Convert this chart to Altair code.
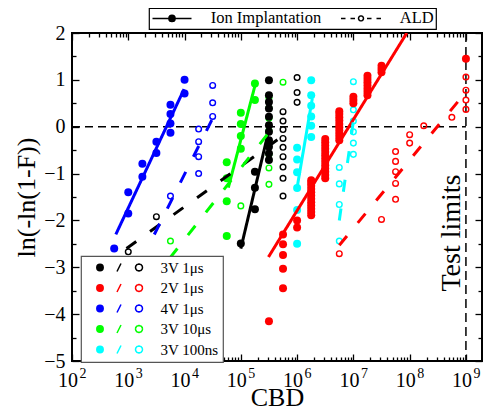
import math

import altair as alt
import pandas as pd

# Series (condición de stress) y su color fijo
SERIES = ["3V 1μs", "2V 1μs", "4V 1μs", "3V 10μs", "3V 100ns"]
SERIES_COLORS = ["#000000", "#ff0000", "#0000ff", "#00ff00", "#00ffff"]
METHODS = ["Ion Implantation", "ALD"]

# Ion implantation (rellenos): (CBD, [ln(-ln(1-F)) ...]) por columna de CBD
ION_3V1US = [(1.00e5, [-2.49]), (1.78e5, [-1.76, -1.30, -0.96]),
             (3.16e5, [-0.71, -0.57, -0.43, -0.29, -0.11, 0.03, 0.21, 0.39, 0.53, 0.67, 0.99])]
ION_2V1US = [(3.16e5, [-4.15]),
             (5.62e5, [-3.45, -3.03, -2.74, -2.51, -2.30]),
             (1.00e6, [-2.15, -2.00]),
             (1.78e6, [-1.89, -1.82, -1.75, -1.68, -1.61, -1.54, -1.47, -1.40, -1.33, -1.26, -1.20, -1.14]),
             (3.16e6, [-1.10, -1.03, -0.96, -0.89, -0.82, -0.75, -0.68, -0.61, -0.54, -0.47, -0.40, -0.33, -0.26]),
             (5.62e6, [-0.29, -0.22, -0.15, -0.08, -0.01, 0.06, 0.13, 0.20, 0.27, 0.33]),
             (1.00e7, [0.50, 0.57, 0.64]),
             (1.78e7, [0.67, 0.74, 0.81, 0.88, 0.95, 1.02, 1.09]),
             (3.16e7, [1.16, 1.23, 1.30]),
             (1.00e9, [1.45])]
ION_4V1US = [(5.62e2, [-2.60]), (1.00e3, [-1.85, -1.40]), (1.78e3, [-1.07, -0.79]),
             (3.16e3, [-0.56, -0.32]), (5.62e3, [-0.13, 0.07, 0.27, 0.47]), (1.00e4, [0.71, 1.00])]
ION_3V10US = [(5.62e4, [-2.33, -1.59, -1.10, -0.76]), (1.00e5, [-0.47, -0.20, 0.06, 0.30]),
              (1.78e5, [0.57, 0.92])]
ION_3V100NS = [(1.00e6, [-2.50, -1.78, -1.31, -0.97, -0.70, -0.45]),
               (1.78e6, [-0.22, 0.02, 0.22, 0.45, 0.67, 0.99])]

# ALD (abiertos)
ALD_3V1US = [(1.00e3, [-2.67]), (3.16e3, [-1.92]),
             (5.62e5, [-1.48, -1.10, -0.86, -0.64, -0.44, -0.25, -0.06, 0.12, 0.32]),
             (1.00e6, [0.52, 0.73, 1.05])]
ALD_2V1US = [(5.62e6, [-2.71]), (3.16e7, [-1.98]), (5.62e7, [-1.55, -1.21, -0.96, -0.74, -0.53]),
             (1.00e8, [-0.35, -0.17]), (1.78e8, [0.02]), (5.62e8, [0.20]),
             (1.00e9, [0.37, 0.57, 0.78, 1.06])]
ALD_4V1US = [(5.62e3, [-1.48]), (1.78e4, [-1.00, -0.64, -0.32, -0.05]), (3.16e4, [0.22, 0.51, 0.88])]
ALD_3V10US = [(5.62e3, [-2.44]), (1.00e5, [-1.69]),
              (3.16e5, [-1.23, -0.88, -0.59, -0.34, -0.08, 0.18, 0.40, 0.62]), (5.62e5, [0.95])]
ALD_3V100NS = [(5.62e6, [-2.44, -1.66, -1.22, -0.87]),
               (1.00e7, [-0.59, -0.35, -0.11, 0.12, 0.36, 0.62, 0.96])]

# Rectas de ajuste: extremos (CBD, ln) por serie y método
FIT_SERIES = SERIES + SERIES
FIT_METHOD = ["Ion Implantation"] * 5 + ["ALD"] * 5
FIT_CBD = [(1.0e5, 3.4e5), (3.1e5, 8.9e7), (6.0e2, 9.8e3), (6.0e4, 1.86e5), (1.0e6, 1.86e6),
           (9.3e2, 6.3e5), (5.62e6, 8.5e8), (2.9e3, 3.55e4), (5.5e3, 3.8e5), (5.62e6, 1.05e7)]
FIT_LN = [(-2.60, 0.10), (-2.78, 2.00), (-2.30, 0.80), (-1.30, 0.96), (-1.30, 0.60),
          (-2.60, -0.15), (-2.53, 0.64), (-2.30, 0.30), (-2.80, 0.00), (-2.00, 0.30)]

TEST_LIMIT = 1e9
TEST_LABEL_Y = -2.27

FONT = "Liberation Serif"


def points_frame(tables):
    rows = []
    for series, groups in zip(SERIES, tables):
        for cbd, values in groups:
            rows += [{"series": series, "cbd": cbd, "lnln": v} for v in values]
    return pd.DataFrame(rows)


ion = points_frame([ION_3V1US, ION_2V1US, ION_4V1US, ION_3V10US, ION_3V100NS])
ald = points_frame([ALD_3V1US, ALD_2V1US, ALD_4V1US, ALD_3V10US, ALD_3V100NS])
fits = pd.DataFrame([
    {"fit": i, "series": s, "method": m, "cbd": c, "lnln": v}
    for i, (s, m, cs, vs) in enumerate(zip(FIT_SERIES, FIT_METHOD, FIT_CBD, FIT_LN))
    for c, v in zip(cs, vs)
])

X_SCALE = alt.Scale(type="log", domain=[100, 1.93e9], nice=False)
Y_SCALE = alt.Scale(domain=[-5, 2], nice=False, zero=False)
COLOR_SCALE = alt.Scale(domain=SERIES, range=SERIES_COLORS)
# Dominio sin fijar (orden alfabético: ALD, Ion...) para que esta leyenda
# desactivada no se fusione con la de método
DASH_SCALE = alt.Scale(range=[[12, 17], [1, 0]])

MAJOR_X = [1e2, 1e3, 1e4, 1e5, 1e6, 1e7, 1e8, 1e9]
MINOR_X = [m * 10.0 ** k for k in range(2, 9) for m in range(2, 10)]
MAJOR_Y = [-5, -4, -3, -2, -1, 0, 1, 2]
MINOR_Y = [-4.5, -3.5, -2.5, -1.5, -0.5, 0.5, 1.5]


def tick_axis(orient, values, size):
    """Solo ticks hacia dentro (offset negativo = tickSize)."""
    return alt.Axis(orient=orient, values=values, tickSize=size, offset=-size,
                    labels=False, title=None)


def ring(cx, r):
    return f"M{cx - r:.2f},0A{r:.2f},{r:.2f} 0 1,1 {cx + r:.2f},0A{r:.2f},{r:.2f} 0 1,1 {cx - r:.2f},0"


def disc(cx, radii):
    return "".join(ring(cx, r) for r in radii)


def open_ring(cx, r, n=24):
    """Círculo hecho de segmentos sueltos: sin área, así el relleno no lo tapa."""
    parts = []
    for k in range(n):
        a0 = 2 * math.pi * k / n - 0.06
        a1 = 2 * math.pi * (k + 1) / n + 0.06
        parts.append(f"M{cx + r * math.cos(a0):.3f},{r * math.sin(a0):.3f}"
                     f"L{cx + r * math.cos(a1):.3f},{r * math.sin(a1):.3f}")
    return "".join(parts)


ION_KEY = "M-3.9,0L3.9,0" + disc(0, [0.14, 0.38, 0.62])
ALD_KEY = "M-4.0,0L-3.1,0M-2.1,0L-1.2,0M1.2,0L2.1,0M3.1,0L4.0,0" + open_ring(0, 0.5)
SERIES_KEY = disc(-3.8, [0.14, 0.4, 0.64]) + "M-0.4,0.8L0.4,-0.8" + open_ring(4.0, 0.7)

NBSP = chr(160)
series_label = (f"indexof(['4V 1μs', '3V 10μs'], datum.label) >= 0 "
                f"? '{NBSP}' + datum.label : datum.label")

filled_pts = alt.Chart(ion).mark_point(filled=True, size=64, opacity=1).encode(
    x=alt.X("cbd:Q", scale=X_SCALE, axis=alt.Axis(
        orient="bottom", values=MAJOR_X, tickSize=7, offset=-7, labelExpr="'10'",
        labelFlush=False, labelOffset=-4.5, labelPadding=9, labelFontSize=20, title="CBD",
        titleFontSize=26, titleBaseline="alphabetic", titleY=51)),
    y=alt.Y("lnln:Q", scale=Y_SCALE, axis=alt.Axis(
        orient="left", values=MAJOR_Y, tickSize=7, offset=-7, labelPadding=7,
        labelFlush=False, labelFontSize=20, title="ln(-ln(1-F))", titleFontSize=26,
        titlePadding=4)),
    color=alt.Color("series:N", scale=COLOR_SCALE, legend=None),
)

open_pts = alt.Chart(ald).mark_point(filled=False, size=32, strokeWidth=1.4, opacity=1).encode(
    x=alt.X("cbd:Q", scale=X_SCALE, axis=tick_axis("top", MAJOR_X, 7)),
    y=alt.Y("lnln:Q", scale=Y_SCALE, axis=tick_axis("right", MAJOR_Y, 7)),
    stroke=alt.Stroke("series:N", scale=COLOR_SCALE, legend=alt.Legend(
        orient="none", legendX=9, legendY=223, title=None, symbolType=SERIES_KEY,
        symbolSize=100, symbolStrokeWidth=1.5, symbolOffset=26.5, labelOffset=34,
        labelFontSize=15, rowPadding=4.5, padding=4, strokeColor="#555555",
        fillColor="white", labelExpr=series_label)),
)

lines = alt.Chart(fits).mark_line(strokeWidth=3, clip=True).encode(
    x=alt.X("cbd:Q", scale=X_SCALE, axis=tick_axis("bottom", MINOR_X, 4)),
    y=alt.Y("lnln:Q", scale=Y_SCALE, axis=tick_axis("left", MINOR_Y, 4)),
    color=alt.Color("series:N", scale=COLOR_SCALE, legend=None),
    strokeDash=alt.StrokeDash("method:N", scale=DASH_SCALE, legend=None),
    detail="fit:N",
)

# Capa sin tinta: solo aporta la leyenda de método (línea + marcador)
method_key = alt.Chart(fits).mark_point(filled=False, opacity=0, color="black").encode(
    x=alt.X("cbd:Q", scale=X_SCALE, axis=tick_axis("top", MINOR_X, 4)),
    y=alt.Y("lnln:Q", scale=Y_SCALE, axis=tick_axis("right", MINOR_Y, 4)),
    shape=alt.Shape("method:N", scale=alt.Scale(domain=METHODS, range=[ION_KEY, ALD_KEY]),
                    legend=alt.Legend(
                        orient="none", legendX=77, legendY=-25, direction="horizontal",
                        title=None, symbolSize=100, symbolStrokeWidth=1.5,
                        symbolStrokeColor="black", symbolOpacity=1, symbolOffset=12.75,
                        labelOffset=30.5, columnPadding=16, labelFontSize=16.5, padding=2,
                        strokeColor="black", fillColor="white")),
)

zero_rule = alt.Chart(pd.DataFrame({"lnln": [0.0], "start": [1e2], "end": [TEST_LIMIT]})).mark_rule(
    strokeDash=[8, 5], strokeWidth=1.5, color="black").encode(
    x=alt.X("start:Q", scale=X_SCALE, axis=None), x2="end:Q",
    y=alt.Y("lnln:Q", scale=Y_SCALE, axis=None),
)

limit_rule = alt.Chart(pd.DataFrame({"cbd": [TEST_LIMIT]})).mark_rule(
    strokeDash=[9, 5], strokeWidth=1.5, color="black").encode(
    x=alt.X("cbd:Q", scale=X_SCALE, axis=None),
)

# El texto también lleva el eje de exponentes (superíndices de 10^n)
limit_text = alt.Chart(pd.DataFrame({"cbd": [TEST_LIMIT], "lnln": [TEST_LABEL_Y],
                                     "label": ["Test limits"]})).mark_text(
    angle=270, dy=-6, fontSize=28, font=FONT, color="black", align="center",
    baseline="alphabetic").encode(
    x=alt.X("cbd:Q", scale=X_SCALE, axis=alt.Axis(
        orient="bottom", values=MAJOR_X, ticks=False, tickSize=0, labelFontSize=14,
        labelExpr="'' + round(log(datum.value) / LN10)", labelOffset=10.5,
        labelFlush=False, labelPadding=5, title=None)),
    y=alt.Y("lnln:Q", scale=Y_SCALE, axis=None),
    text="label:N",
)

chart = (
    alt.layer(zero_rule, limit_rule, method_key, open_pts, filled_pts, lines, limit_text)
    .resolve_axis(x="independent", y="independent")
    .properties(width=410, height=328, autosize=alt.AutoSizeParams(type="none"),
                padding={"left": 64, "top": 25, "right": 10, "bottom": 50})
    .configure_view(stroke="black", strokeWidth=2)
    .configure_axis(labelFont=FONT, titleFont=FONT, labelColor="black", titleColor="black",
                    titleFontWeight="normal", tickColor="black", tickWidth=1.3,
                    domain=False, grid=False)
    .configure_legend(labelFont=FONT, labelColor="black", strokeWidth=1.2)
)

chart.save("out.html", embed_options={"renderer": "svg", "actions": False})
